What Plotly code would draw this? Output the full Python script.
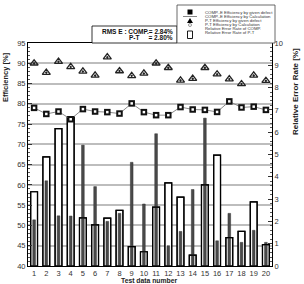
import plotly.graph_objects as go

tests = list(range(1, 21))
pt_eff = [90.0, 87.7, 90.4, 89.1, 88.0, 87.0, 91.5, 88.1, 86.9, 87.5,
          90.0, 88.9, 85.8, 86.2, 88.9, 87.3, 86.1, 84.9, 87.0, 85.7]
comp_eff = [79.0, 77.5, 78.1, 76.2, 78.7, 78.1, 77.95, 77.6, 80.1, 77.95,
            77.2, 77.2, 79.2, 78.6, 78.5, 78.0, 80.6, 79.1, 79.3, 78.5]
err_open = [3.33, 4.89, 6.16, 6.69, 2.16, 1.84, 2.15, 2.49, 0.87, 0.64,
            2.64, 3.73, 3.09, 0.49, 3.64, 4.97, 1.27, 1.55, 2.88, 0.96]
err_dark = [2.07, 3.82, 2.25, 2.24, 5.42, 3.56, 2.00, 2.36, 4.65, 2.78,
            5.93, 0.91, 1.55, 3.43, 6.63, 1.13, 2.36, 1.06, 1.60, 1.06]
left_ticks = list(range(40, 96, 5))
right_ticks = list(range(0, 11))

W, H = 304, 284
PL, PR, PT, PB = 28, 272, 43, 266
FONT = "Liberation Sans"


def px(x):
    return (x - PL) / (PR - PL)


def py(y):
    return (PB - y) / (PB - PT)


fig = go.Figure()
fig.add_trace(go.Bar(x=tests, y=err_open, width=0.56, yaxis="y",
                     marker=dict(color="white", line=dict(color="black", width=1.2))))
fig.add_trace(go.Bar(x=tests, y=err_dark, width=0.22, yaxis="y",
                     marker=dict(color="#4a4a4a", line=dict(color="#333", width=0.5))))
fig.add_trace(go.Bar(x=tests, y=err_open, width=0.56, yaxis="y",
                     marker=dict(color="rgba(0,0,0,0)", line=dict(color="black", width=1.2))))
fig.add_trace(go.Scatter(x=tests, y=comp_eff, yaxis="y2", mode="lines+markers",
                         line=dict(color="#8a8a8a", width=1),
                         marker=dict(symbol="square", size=6.5, color="#111")))
fig.add_trace(go.Scatter(x=tests, y=comp_eff, yaxis="y2", mode="markers",
                         marker=dict(symbol="square", size=2.5, color="white")))
fig.add_trace(go.Scatter(x=tests, y=pt_eff, yaxis="y2", mode="markers",
                         marker=dict(symbol="triangle-up-open-dot", size=7, color="#222",
                                     line=dict(width=1.3, color="#222"))))

shapes = []
annotations = []


def ann(x, y, text, size, xanchor="center", angle=0, color="#222"):
    annotations.append(dict(x=px(x), y=py(y), xref="paper", yref="paper", text=text,
                            xanchor=xanchor, yanchor="middle", textangle=angle, showarrow=False,
                            font=dict(size=size, color=color, family=FONT)))


# axis titles
ann(5, 77, "<b>Efficiency [%]</b>", 7.5, angle=-90)
ann(295, 92, "<b>Relative Error Rate [%]</b>", 8, angle=-90)
ann(149, 280.8, "<b>Test data number</b>", 6.8)

# RMS box
shapes.append(dict(type="rect", xref="paper", yref="paper", x0=px(92), x1=px(177), y0=py(43), y1=py(26),
                   line=dict(color="black", width=0.8), fillcolor="white", layer="above"))
ann(175, 31, "<b>RMS E : COMP.= 2.84%</b>", 6.5, xanchor="right", color="#111")
ann(175, 38, "<b>P-T     = 2.80%</b>", 6.5, xanchor="right", color="#111")

# legend box
shapes.append(dict(type="rect", xref="paper", yref="paper", x0=px(177), x1=px(275), y0=py(43), y1=py(5),
                   line=dict(color="#444", width=0.8), fillcolor="white", layer="above"))
legend_texts = ["COMP.-E Efficiency by given defect", "COMP.-E Efficiency by Calculation",
                "P-T Efficiency by given defect", "P-T Efficiency by Calculation",
                "Relative Error Rate of COMP.", "Relative Error Rate of P-T"]
rows = [12.3, 16.3, 20.3, 24.3, 28.5, 32.7]
for t, r in zip(legend_texts, rows):
    ann(203, r, t, 4.3, xanchor="left", color="#333")
sx = 190
shapes.append(dict(type="rect", xref="paper", yref="paper", x0=px(sx - 2.5), x1=px(sx + 2.5),
                   y0=py(14.5), y1=py(9.5), line=dict(width=0), fillcolor="black", layer="above"))
shapes.append(dict(type="line", xref="paper", yref="paper", x0=px(183), x1=px(197),
                   y0=py(16.5), y1=py(16.5), line=dict(color="#666", width=0.8), layer="above"))
shapes.append(dict(type="path", xref="paper", yref="paper",
                   path=f"M {px(sx-3)} {py(23)} L {px(sx+3)} {py(23)} L {px(sx)} {py(18)} Z",
                   line=dict(width=0), fillcolor="black", layer="above"))
shapes.append(dict(type="circle", xref="paper", yref="paper", x0=px(sx - 1.5), x1=px(sx + 1.5),
                   y0=py(26.5), y1=py(23.5), line=dict(color="#555", width=0.6), fillcolor="white", layer="above"))
shapes.append(dict(type="rect", xref="paper", yref="paper", x0=px(sx - 2.5), x1=px(sx + 2.5),
                   y0=py(38.5), y1=py(31), line=dict(color="black", width=0.9), fillcolor="white", layer="above"))

fig.update_layout(
    width=W, height=H,
    margin=dict(l=PL, r=W - PR, t=PT, b=H - PB, pad=0, autoexpand=False),
    paper_bgcolor="white", plot_bgcolor="white",
    barmode="overlay", showlegend=False,
    font=dict(family=FONT, size=8, color="#333"),
    shapes=shapes, annotations=annotations,
    xaxis=dict(range=[0.5, 20.5], tickvals=tests, ticktext=[str(t) for t in tests],
               showline=True, mirror=True, linecolor="black", linewidth=1, ticks="",
               showgrid=False, zeroline=False, tickfont=dict(size=7.5, color="#333")),
    yaxis=dict(range=[0, 10], side="right", tickvals=right_ticks, ticks="inside", ticklen=4,
               tickcolor="#333", showgrid=False, zeroline=False, showline=True, linecolor="black",
               linewidth=1, tickfont=dict(size=7.5, color="#333"),
               minor=dict(ticks="inside", dtick=0.2, ticklen=2, tickcolor="#555")),
    yaxis2=dict(range=[40, 95], overlaying="y", side="left", tickvals=left_ticks, ticks="inside",
                ticklen=4, tickcolor="#333", showgrid=True, gridcolor="#bdbdbd", gridwidth=1.5,
                zeroline=False, showline=True, linecolor="black", linewidth=1,
                tickfont=dict(size=7.5, color="#333"),
                minor=dict(ticks="inside", dtick=1, ticklen=2, tickcolor="#555", showgrid=False)),
)

fig.write_html("out.html")
